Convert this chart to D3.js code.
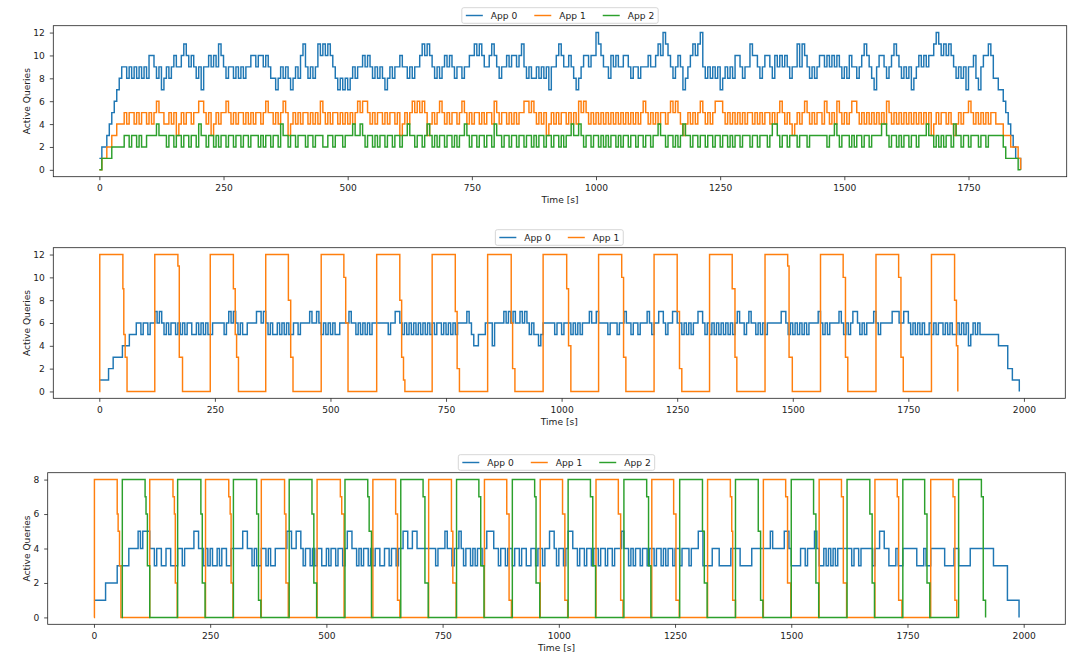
<!DOCTYPE html>
<html>
<head>
<meta charset="utf-8">
<script src="https://cdn.jsdelivr.net/npm/d3@7"></script>
<style>
  body { margin: 0; background: #fff; }
  svg { display: block; }
  text { font-family: "DejaVu Sans", sans-serif; fill: #222; }
</style>
</head>
<body>
<svg id="fig" width="1071" height="653"></svg>
<script>
// Sampling interval (seconds) of the sampled query-count series.
const SAMPLE_STEP = 5;

const appNames = ["App 0", "App 1", "App 2"];
const appColors = ["#1f77b4", "#ff7f0e", "#2ca02c"];

const xTicksRun1 = [0, 250, 500, 750, 1000, 1250, 1500, 1750];
const xTicksRun23 = [0, 250, 500, 750, 1000, 1250, 1500, 1750, 2000];
const yTicks12 = [0, 2, 4, 6, 8, 10, 12];
const yTicks8 = [0, 2, 4, 6, 8];

// ---- Run 1: three apps running concurrently (one sample every 5 s) ----
const run1App0 = [
  1,2,2,3,4,5,6,7,8,9,
  9,8,9,8,9,8,9,8,9,8,
  10,10,9,8,9,7,8,9,8,9,
  10,9,9,10,11,10,9,10,9,8,
  9,7,9,9,10,9,10,9,11,10,
  9,8,9,9,8,9,8,9,8,9,
  9,10,10,9,10,10,9,10,9,8,
  8,7,8,9,8,9,8,7,8,9,
  8,10,11,9,8,9,8,9,11,10,
  11,10,11,10,9,8,7,8,7,8,
  7,8,9,8,9,9,10,9,10,9,
  8,9,8,9,8,7,8,9,8,9,
  9,10,9,9,8,9,8,9,9,10,
  11,10,11,10,9,8,9,8,9,10,
  9,10,9,8,9,9,8,9,9,10,
  10,11,10,11,10,9,9,10,11,10,
  9,8,9,9,10,9,10,10,9,10,
  11,9,8,9,8,8,9,8,9,8,
  9,7,9,9,10,11,10,9,9,10,
  9,8,7,8,9,10,10,9,10,10,
  12,11,10,9,9,8,10,9,10,9,
  9,10,10,9,8,9,9,8,9,9,
  9,10,9,9,10,11,10,12,11,10,
  9,8,9,10,9,7,8,9,10,11,
  10,11,12,9,8,9,8,9,8,9,
  7,8,9,8,9,8,10,10,9,8,
  9,9,11,10,10,9,8,9,10,10,
  9,8,10,9,10,9,10,9,8,9,
  9,11,9,11,10,9,8,9,8,9,
  10,10,9,10,9,10,9,10,9,8,
  9,8,10,9,9,8,9,10,11,10,
  9,8,7,9,10,10,9,8,9,10,
  11,10,9,8,9,8,9,7,8,9,
  10,9,10,9,10,10,11,12,11,10,
  11,10,11,10,9,8,9,8,9,7,
  9,9,10,8,7,9,10,10,11,10,
  8,8,7,7,6,5,4,3,2,1,
  1,0
];
const run1App1 = [
  0,1,1,2,2,3,3,4,4,4,
  5,4,5,5,4,5,4,5,5,4,
  5,4,5,6,5,5,4,4,5,4,
  5,3,4,5,4,5,5,4,5,5,
  6,6,5,4,5,3,4,5,4,5,
  5,6,5,4,5,4,5,5,4,5,
  4,5,4,5,5,4,5,6,5,5,
  4,5,4,5,6,5,3,4,5,4,
  5,4,5,5,4,5,4,5,4,6,
  5,4,5,4,5,5,4,5,4,5,
  4,5,4,5,6,5,6,6,5,4,
  5,4,5,5,4,5,4,5,5,4,
  5,3,4,5,4,5,6,5,6,5,
  6,5,3,4,5,4,5,6,5,4,
  5,4,5,5,4,5,6,5,4,5,
  4,5,5,4,5,4,5,5,4,6,
  5,4,5,5,4,5,4,5,4,5,
  5,6,6,5,6,5,4,5,4,5,
  3,4,5,4,5,4,5,5,4,5,
  4,5,4,6,5,6,5,4,5,4,
  5,4,5,4,5,4,5,4,5,4,
  5,4,5,4,5,4,5,4,5,6,
  5,4,5,4,5,4,5,5,4,5,
  6,5,6,5,4,3,4,5,4,5,
  4,5,6,5,4,5,4,5,6,6,
  6,5,4,5,4,5,4,5,4,5,
  4,5,5,4,5,4,5,4,5,5,
  4,5,4,5,6,5,4,5,4,3,
  4,5,4,5,6,5,4,5,4,5,
  5,4,6,5,4,5,4,6,5,4,
  5,4,5,6,6,5,4,5,4,5,
  4,5,4,5,4,5,4,6,5,4,
  5,4,5,4,5,4,5,4,5,4,
  5,4,5,4,5,3,4,5,4,5,
  5,4,5,4,3,4,5,4,5,5,
  6,5,4,5,4,5,4,5,4,5,
  5,4,4,4,3,3,3,2,2,2,
  1,0
];
const run1App2 = [
  0,1,1,1,1,2,2,2,2,2,
  3,3,2,3,3,2,3,2,2,3,
  3,3,3,4,3,3,3,2,3,3,
  2,3,3,2,3,3,2,3,3,2,
  4,3,3,2,3,3,2,3,2,3,
  3,2,3,3,2,3,3,2,3,3,
  2,3,3,3,2,3,2,3,3,2,
  3,3,2,4,3,3,2,3,3,2,
  3,3,3,2,3,3,2,3,3,3,
  2,2,3,3,2,3,3,3,2,3,
  3,3,4,3,3,4,3,2,3,3,
  2,3,2,3,3,2,3,3,2,3,
  3,2,3,3,4,3,3,2,3,3,
  2,3,4,3,2,3,2,3,3,2,
  3,3,2,3,2,3,3,4,3,2,
  3,3,2,3,3,2,3,3,2,4,
  3,3,2,3,3,2,3,3,2,3,
  3,2,3,3,2,3,2,3,3,2,
  3,3,2,3,3,2,3,2,3,3,
  4,3,3,4,3,2,3,3,2,3,
  3,2,3,2,3,2,3,3,2,3,
  2,3,3,2,3,3,2,3,3,2,
  3,3,2,3,3,4,3,3,2,3,
  3,2,3,2,3,4,3,3,2,3,
  3,2,3,3,2,3,3,2,3,3,
  2,3,3,2,3,2,3,3,2,3,
  3,3,2,3,3,2,3,3,3,2,
  3,4,4,3,2,3,3,2,3,3,
  3,2,3,3,3,2,3,3,3,3,
  3,3,3,2,3,3,4,3,2,3,
  3,3,2,3,2,3,3,2,3,3,
  2,3,3,3,3,4,4,3,2,3,
  3,2,3,2,3,3,2,3,3,2,
  3,3,3,4,3,3,2,3,2,3,
  2,3,3,2,4,3,3,2,3,3,
  2,3,3,3,2,3,3,2,3,3,
  3,3,3,3,2,1,1,1,1,1,
  0,0
];

// ---- Run 2: App 0 steady, App 1 in bursts (App 0 sampled every 5 s) ----
const run2App0 = [
  1,1,1,1,2,2,3,3,3,3,
  4,4,4,5,5,5,6,6,5,6,
  6,5,6,6,7,6,7,6,5,6,
  5,6,6,5,6,5,6,5,6,6,
  5,5,6,5,6,5,6,5,5,6,
  6,6,6,6,5,6,7,6,7,6,
  5,6,5,5,6,6,6,6,7,7,
  6,7,6,5,6,5,5,6,5,6,
  5,6,5,5,6,6,5,6,6,6,
  6,7,6,6,7,6,5,6,5,6,
  5,6,5,5,6,6,6,6,7,6,
  6,5,6,5,6,5,6,5,6,6,
  6,6,6,6,6,5,6,6,7,7,
  6,5,6,5,6,5,6,5,6,5,
  6,5,6,5,6,5,6,6,5,6,
  5,6,5,6,5,6,6,6,6,7,
  6,5,4,4,5,5,5,6,6,6,
  4,6,6,6,6,7,6,7,6,7,
  6,6,7,6,7,6,5,6,5,5,
  4,5,6,6,6,6,6,5,6,6,
  5,6,6,6,5,6,5,6,5,6,
  6,6,7,6,6,7,6,6,6,6,
  5,6,6,6,5,6,6,7,6,6,
  5,6,6,5,6,6,6,7,6,5,
  6,6,7,7,6,5,6,6,7,7,
  6,6,5,6,5,6,5,6,6,7,
  7,6,5,6,5,6,5,6,5,6,
  5,6,5,6,5,6,7,6,6,5,
  6,7,6,6,5,6,5,6,5,6,
  6,6,6,6,6,7,7,6,5,6,
  5,6,5,6,5,6,5,6,6,6,
  6,7,6,5,6,5,6,6,6,6,
  7,6,5,6,5,6,7,7,6,5,
  6,5,6,6,6,7,6,5,6,6,
  6,6,6,7,7,7,6,6,7,7,
  6,5,6,5,6,5,6,5,5,6,
  5,6,5,6,6,5,6,5,6,5,
  5,6,5,6,5,6,4,5,6,5,
  6,5,5,5,5,5,5,5,5,4,
  4,4,4,2,2,1,1,1,0
];
// App 1 bursts as [time (s), active queries] change points
const run2App1 = [
  [0,0],[1,12],[51,9],[53,5],[56,3],[60,0],
  [120,12],[170,11],[173,3],[180,0],
  [240,12],[290,9],[294,5],[297,3],[301,0],
  [360,12],[409,8],[414,3],[419,0],
  [480,12],[529,10],[533,6],[538,0],
  [600,12],[650,8],[654,3],[658,1],[661,0],
  [720,12],[770,7],[774,2],[779,0],
  [840,12],[891,6],[894,2],[899,0],
  [960,12],[1011,9],[1015,4],[1020,0],
  [1080,12],[1130,10],[1134,3],[1139,0],
  [1200,12],[1250,7],[1255,2],[1260,0],
  [1320,12],[1369,9],[1375,3],[1379,0],
  [1440,12],[1489,11],[1492,3],[1499,0],
  [1560,12],[1609,10],[1614,3],[1619,0],
  [1680,12],[1729,10],[1734,3],[1739,0],
  [1800,12],[1850,8],[1854,4],[1857,0]
];

// ---- Run 3: App 0 steady, Apps 1 and 2 in alternating bursts ----
const run3App0 = [
  1,1,1,1,1,2,2,2,2,2,
  3,3,3,3,3,4,4,4,4,5,
  4,5,5,5,4,4,3,4,4,3,
  3,4,4,3,3,3,4,4,3,4,
  4,4,4,5,5,4,4,3,4,3,
  4,3,3,4,3,4,4,3,3,4,
  4,4,4,4,5,5,4,4,3,4,
  3,3,4,4,3,4,3,3,4,4,
  4,4,4,5,5,4,4,5,5,4,
  3,4,4,3,4,3,4,4,3,3,
  4,3,4,4,3,4,4,3,4,5,
  5,4,4,3,4,3,4,4,3,4,
  3,4,4,3,3,4,4,3,4,4,
  3,4,4,5,5,4,4,5,5,4,
  4,4,4,4,4,4,4,3,4,4,
  4,5,4,4,3,4,4,5,4,3,
  4,4,3,4,3,4,4,3,4,5,
  5,5,4,4,3,4,4,3,4,4,
  3,4,4,3,4,4,3,3,4,4,
  3,4,4,3,4,4,5,5,4,3,
  4,4,3,4,5,5,4,4,3,4,
  4,3,4,4,3,4,4,3,4,4,
  3,4,4,3,4,4,4,5,4,4,
  3,4,3,4,4,3,4,4,3,4,
  4,3,4,4,3,4,3,4,4,3,
  4,4,3,4,4,4,3,4,4,4,
  5,5,3,3,3,3,4,4,4,3,
  3,3,3,3,4,4,4,4,3,3,
  3,3,3,4,4,4,4,4,4,4,
  4,5,4,4,4,4,4,5,5,4,
  3,3,3,3,4,4,3,4,4,4,
  5,4,3,3,4,3,4,3,4,3,
  4,4,4,4,4,4,3,4,4,3,
  4,4,4,4,4,3,4,4,5,5,
  4,4,3,3,3,4,3,3,4,4,
  4,4,4,4,3,3,3,4,3,3,
  4,4,4,4,4,4,3,3,3,3,
  4,4,3,3,3,3,3,4,4,4,
  4,4,4,4,4,4,4,3,3,3,
  3,3,3,1,1,1,1,1,0
];
const run3App1 = [
  [0,0],[1,8],[50,6],[52,5],[55,3],[58,0],
  [120,8],[170,7],[173,6],[175,2],[179,0],
  [240,8],[290,7],[293,6],[295,2],[299,0],
  [360,8],[410,6],[413,2],[418,0],
  [480,8],[530,7],[533,6],[538,0],
  [600,8],[649,6],[653,1],[658,0],
  [720,8],[769,5],[772,2],[779,0],
  [840,8],[888,6],[893,1],[898,0],
  [960,8],[1008,6],[1013,1],[1019,0],
  [1080,8],[1128,6],[1133,1],[1138,0],
  [1200,8],[1247,6],[1252,1],[1259,0],
  [1320,8],[1369,7],[1372,5],[1374,1],[1380,0],
  [1440,8],[1488,7],[1492,2],[1499,0],
  [1560,8],[1608,7],[1612,2],[1619,0],
  [1680,8],[1728,7],[1731,1],[1738,0],
  [1800,8],[1848,7],[1852,1],[1856,0]
];
const run3App2 = [
  [60,0],[61,8],[110,7],[112,6],[115,3],[120,0],
  [180,8],[230,6],[233,2],[239,0],
  [300,8],[350,6],[354,1],[359,0],
  [420,8],[469,6],[473,2],[479,0],
  [540,8],[589,7],[592,5],[597,0],
  [660,8],[708,7],[712,2],[719,0],
  [780,8],[828,7],[832,3],[839,0],
  [900,8],[948,7],[951,2],[959,0],
  [1020,8],[1068,7],[1073,3],[1079,0],
  [1140,8],[1189,7],[1193,3],[1198,0],
  [1260,8],[1309,5],[1313,2],[1319,0],
  [1380,8],[1429,5],[1434,1],[1439,0],
  [1500,8],[1548,6],[1553,2],[1559,0],
  [1620,8],[1669,6],[1674,2],[1679,0],
  [1740,8],[1787,6],[1792,2],[1798,0],
  [1860,8],[1909,7],[1913,1],[1918,0]
];

// Turn an evenly sampled list into [time, value] points.
const sampled = vals => vals.map((v, i) => [i * SAMPLE_STEP, v]);

const panels = [
  { box: { l: 53.3, r: 1066.7, t: 25.7, b: 176.7 }, yMax: 12, yTicks: yTicks12, xTicks: xTicksRun1,
    series: [sampled(run1App0), sampled(run1App1), sampled(run1App2)] },
  { box: { l: 53.3, r: 1065.3, t: 247.7, b: 398.3 }, yMax: 12, yTicks: yTicks12, xTicks: xTicksRun23,
    series: [sampled(run2App0), run2App1] },
  { box: { l: 47.7, r: 1065.3, t: 472.7, b: 624.3 }, yMax: 8, yTicks: yTicks8, xTicks: xTicksRun23,
    series: [sampled(run3App0), run3App1, run3App2] }
];

const svg = d3.select("#fig");
const FONT = 9.1;
const LINE_W = 1.45;

panels.forEach((p, pi) => {
  const { l, r, t, b } = p.box;
  const allT = p.series.flat().map(d => d[0]);
  const [t0, t1] = d3.extent(allT);
  const padX = (t1 - t0) * 0.05;
  const padY = p.yMax * 0.05;
  const x = d3.scaleLinear().domain([t0 - padX, t1 + padX]).range([l, r]);
  const y = d3.scaleLinear().domain([-padY, p.yMax + padY]).range([b, t]);

  const g = svg.append("g").attr("class", "panel-" + pi);

  // axes
  const xa = g.append("g").attr("transform", `translate(0,${b})`)
    .call(d3.axisBottom(x).tickValues(p.xTicks).tickSize(3.5).tickPadding(4.3).tickFormat(d3.format("d")));
  const ya = g.append("g").attr("transform", `translate(${l},0)`)
    .call(d3.axisLeft(y).tickValues(p.yTicks).tickSize(3.5).tickPadding(5).tickFormat(d3.format("d")));
  [xa, ya].forEach(a => {
    a.select(".domain").remove();
    a.selectAll(".tick line").attr("stroke", "#222").attr("stroke-width", 0.8);
    a.selectAll(".tick text").attr("font-size", FONT).attr("fill", "#222")
      .style("font-family", "'DejaVu Sans', sans-serif");
  });

  // step lines
  const line = d3.line().x(d => x(d[0])).y(d => y(d[1])).curve(d3.curveStepAfter);
  p.series.forEach((s, si) => {
    g.append("path").datum(s)
      .attr("d", line)
      .attr("fill", "none")
      .attr("stroke", appColors[si])
      .attr("stroke-width", LINE_W)
      .attr("stroke-linejoin", "miter");
  });

  // frame
  g.append("rect").attr("x", l).attr("y", t).attr("width", r - l).attr("height", b - t)
    .attr("fill", "none").attr("stroke", "#222").attr("stroke-width", 0.8);

  // axis titles
  g.append("text").attr("x", (l + r) / 2).attr("y", b + 23.5)
    .attr("text-anchor", "middle").attr("dominant-baseline", "central")
    .attr("font-size", FONT).text("Time [s]");
  g.append("text")
    .attr("transform", `translate(27,${(t + b) / 2}) rotate(-90)`)
    .attr("text-anchor", "middle").attr("dominant-baseline", "central")
    .attr("font-size", FONT).text("Active Queries");

  // legend, centred above the axes
  const n = p.series.length;
  const lg = g.append("g");
  const box = lg.append("rect");
  const handleLen = 17, handleGap = 8, itemGap = 17, inner = 4;
  let cx = inner;
  const items = [];
  for (let i = 0; i < n; i++) {
    const it = lg.append("g");
    it.append("line").attr("x1", cx).attr("x2", cx + handleLen).attr("y1", 0).attr("y2", 0)
      .attr("stroke", appColors[i]).attr("stroke-width", LINE_W);
    const tx = it.append("text").attr("x", cx + handleLen + handleGap).attr("y", 0)
      .attr("dominant-baseline", "central").attr("font-size", FONT).text(appNames[i]);
    const w = tx.node().getComputedTextLength();
    cx += handleLen + handleGap + w + (i < n - 1 ? itemGap : inner);
    items.push(it);
  }
  const lgW = cx, lgH = 15.6;
  const lgX = (l + r) / 2 - lgW / 2;
  const lgY = t - 2.4 - lgH;
  lg.attr("transform", `translate(${lgX},${lgY})`);
  items.forEach(it => it.attr("transform", `translate(0,${lgH / 2})`));
  box.attr("x", 0).attr("y", 0).attr("width", lgW).attr("height", lgH).attr("rx", 2)
    .attr("fill", "#fff").attr("fill-opacity", 0.8).attr("stroke", "#cccccc").attr("stroke-width", 0.8);
});
</script>
</body>
</html>
